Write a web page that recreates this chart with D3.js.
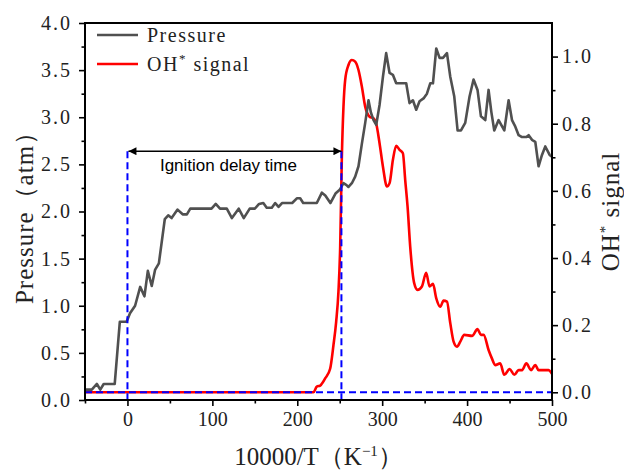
<!DOCTYPE html>
<html><head><meta charset="utf-8">
<script src="https://cdn.jsdelivr.net/npm/d3@7"></script>
<style>body{margin:0;background:#fff}svg{display:block}</style>
</head><body>
<svg id="c" width="624" height="471"></svg>
<script>
// ---- data ----
const pressureX = [-50,-42,-36,-32,-28,-15,-9,-1,3,9,15,20,24,28.6,32.5,37,44,48,52,59,65,70,74,99,104,109,117,123,131,137,144,150,155,160,164,170,174,178,182,188,194,199.5,203.4,207,223,229,233,239,245,250,254.4,258,260.3,264.3,268.2,272.1,276.1,280,283.9,286.7,289.8,293,296.9,300.9,304.7,308.7,312.6,316.5,328.3,332.2,336.2,340.1,344,348.7,352.7,356.6,359.8,363.7,367.6,371.6,376.3,380.2,384.9,388.8,392.8,397.8,402.9,407.6,412.3,416.3,421.4,425.3,428.5,432,437.1,443.8,448.9,452.9,456.8,460.7,464.7,469.8,472.5,476.4,480.3,484.2,488.2,492.1,497.2,500];
const pressureY = [0.11,0.11,0.17,0.11,0.17,0.17,0.83,0.83,0.92,1.0,1.2,1.10,1.37,1.21,1.38,1.45,1.92,1.96,1.93,2.02,1.97,1.97,2.03,2.03,2.08,2.03,2.03,1.93,2.03,1.93,2.03,2.03,2.08,2.09,2.04,2.04,2.09,2.05,2.09,2.09,2.09,2.14,2.14,2.09,2.09,2.2,2.17,2.09,2.19,2.23,2.30,2.28,2.26,2.30,2.37,2.48,2.72,2.94,3.18,3.05,2.97,2.92,3.13,3.43,3.68,3.47,3.45,3.36,3.36,3.15,3.18,3.08,3.17,3.20,3.25,3.36,3.36,3.73,3.63,3.63,3.68,3.43,3.22,2.86,2.86,2.94,3.22,3.40,3.29,3.01,2.97,3.29,3.06,2.86,2.97,2.86,3.18,2.97,2.90,2.81,2.79,2.79,2.81,2.76,2.74,2.48,2.60,2.69,2.60,2.58];
const ohX = [-50,219,223,227,233,238.7,242.6,245.8,248.5,250.5,252.5,254.4,256.4,260.3,264.3,268.2,272.1,276.1,280,285.1,289.8,293,296.9,300.9,305.6,308.7,312.6,316.5,320.5,324.4,327.1,329.9,333,337.7,341.6,346.8,351.8,355.8,359.8,363.7,368.4,372.3,376.3,380.2,384.1,388.1,392,396.7,405.8,412.3,416.3,419.5,425.3,429.2,433.1,439,443.8,450.1,455.6,460.7,464.7,469.8,475.3,480.3,484.2,496,500];
const ohY = [0,0,0.017,0.02,0.042,0.07,0.14,0.21,0.30,0.43,0.70,0.85,0.93,0.975,0.99,0.985,0.96,0.91,0.851,0.821,0.816,0.80,0.742,0.672,0.613,0.623,0.692,0.734,0.722,0.712,0.633,0.553,0.434,0.325,0.305,0.315,0.356,0.315,0.323,0.28,0.255,0.273,0.27,0.206,0.151,0.136,0.151,0.171,0.168,0.188,0.171,0.171,0.126,0.101,0.081,0.086,0.052,0.069,0.052,0.066,0.066,0.086,0.066,0.081,0.066,0.066,0.055];
const xTicks = [0,100,200,300,400,500];
const xMinor = [-50,50,150,250,350,450];
const pTicks = [0,0.5,1,1.5,2,2.5,3,3.5,4];
const pMinor = [0.25,0.75,1.25,1.75,2.25,2.75,3.25,3.75];
const ohTicks = [0,0.2,0.4,0.6,0.8,1.0];
const ohMinor = [0.1,0.3,0.5,0.7,0.9];
const seriesNames = ["Pressure","OH* signal"];
const ignitionStart = 0, ignitionEnd = 252, arrowLevel = 2.64;
const annotationText = "Ignition delay time";

// ---- layout ----
const L = 85, R = 552, T = 23, B = 400;
const svg = d3.select("#c");
const x = d3.scaleLinear().domain([-50,500]).range([L,R]);
const yP = d3.scaleLinear().domain([0,4]).range([B,T]);
const yO = d3.scaleLinear().domain([-0.023,1.1]).range([B,T]);
const serif = "'Liberation Serif','Times New Roman',serif";

// defs
const defs = svg.append("defs");
defs.append("marker").attr("id","ah").attr("viewBox","0 0 10 10").attr("refX",10).attr("refY",5)
  .attr("markerWidth",10).attr("markerHeight",8).attr("markerUnits","userSpaceOnUse").attr("orient","auto-start-reverse")
  .append("path").attr("d","M0,0L10,5L0,10z").attr("fill","#000");
defs.append("clipPath").attr("id","clip").append("rect").attr("x",L).attr("y",T).attr("width",R-L).attr("height",B-T);

// lines
const pData = pressureX.map((d,i)=>[d,pressureY[i]]);
const oData = ohX.map((d,i)=>[d,ohY[i]]);
const g = svg.append("g").attr("clip-path","url(#clip)");
g.append("path").datum(oData).attr("fill","none").attr("stroke","#ff0000").attr("stroke-width",2.6)
  .attr("stroke-linejoin","round")
  .attr("d",d3.line().x(d=>x(d[0])).y(d=>yO(d[1])).curve(d3.curveMonotoneX));
g.append("path").datum(pData).attr("fill","none").attr("stroke","#505050").attr("stroke-width",2.6)
  .attr("stroke-linejoin","round")
  .attr("d",d3.line().x(d=>x(d[0])).y(d=>yP(d[1])));

// blue dashed lines
const dash = svg.append("g").attr("stroke","#0000ff").attr("stroke-width",2).attr("stroke-dasharray","7,4").attr("fill","none");
dash.append("line").attr("x1",x(-50)).attr("x2",x(500)).attr("y1",yO(0)).attr("y2",yO(0));
dash.append("line").attr("x1",x(ignitionStart)).attr("x2",x(ignitionStart)).attr("y1",yP(arrowLevel)).attr("y2",B);
dash.append("line").attr("x1",x(ignitionEnd)).attr("x2",x(ignitionEnd)).attr("y1",yP(arrowLevel)).attr("y2",B);

// arrow
svg.append("line").attr("x1",x(ignitionStart)+1).attr("x2",x(ignitionEnd)).attr("y1",yP(arrowLevel)).attr("y2",yP(arrowLevel))
  .attr("stroke","#000").attr("stroke-width",1.6).attr("marker-start","url(#ah)").attr("marker-end","url(#ah)");
svg.append("text").attr("x",(x(ignitionStart)+x(ignitionEnd))/2-6).attr("y",yP(arrowLevel)+20)
  .attr("text-anchor","middle").attr("font-family","'Liberation Sans',Arial,sans-serif").attr("font-size",17)
  .attr("fill","#000").text(annotationText);

// frame
svg.append("rect").attr("x",L).attr("y",T).attr("width",R-L).attr("height",B-T).attr("fill","none").attr("stroke","#000").attr("stroke-width",2);

// axes
function styleAxis(sel){
  sel.select(".domain").remove();
  sel.selectAll(".tick line").attr("stroke","#000").attr("stroke-width",1.6);
  sel.selectAll(".tick text").attr("font-family",serif).attr("font-size",20).attr("fill","#222").attr("letter-spacing","2px");
}
const fmt1 = d3.format(".1f");
const xa = svg.append("g").attr("transform",`translate(0,${B})`)
  .call(d3.axisBottom(x).tickValues(xTicks).tickSize(6).tickPadding(6).tickFormat(d3.format("d")));
styleAxis(xa); xa.selectAll(".tick text").attr("letter-spacing","0px");
const xm = svg.append("g").attr("transform",`translate(0,${B})`).call(d3.axisBottom(x).tickValues(xMinor).tickSize(3.5).tickFormat(""));
styleAxis(xm);
const ya = svg.append("g").attr("transform",`translate(${L},0)`)
  .call(d3.axisLeft(yP).tickValues(pTicks).tickSize(6).tickPadding(9).tickFormat(fmt1));
styleAxis(ya); ya.selectAll(".tick text").attr("dx","2px");
const ym = svg.append("g").attr("transform",`translate(${L},0)`).call(d3.axisLeft(yP).tickValues(pMinor).tickSize(3.5).tickFormat(""));
styleAxis(ym);
const yb = svg.append("g").attr("transform",`translate(${R},0)`)
  .call(d3.axisRight(yO).tickValues(ohTicks).tickSize(6).tickPadding(4).tickFormat(fmt1));
styleAxis(yb);
const ybm = svg.append("g").attr("transform",`translate(${R},0)`).call(d3.axisRight(yO).tickValues(ohMinor).tickSize(3.5).tickFormat(""));
styleAxis(ybm);

// axis titles
const xt = svg.append("text").attr("x",(L+R)/2).attr("y",465).attr("text-anchor","middle")
  .attr("font-family",serif).attr("font-size",25).attr("fill","#222");
xt.append("tspan").text("10000/T（K");
xt.append("tspan").attr("dy",-9).attr("font-size",15).text("−1");
xt.append("tspan").attr("dy",9).text("）");

svg.append("text").attr("transform",`translate(33,${(T+B)/2}) rotate(-90)`).attr("text-anchor","middle")
  .attr("font-family",serif).attr("font-size",25).attr("fill","#222").attr("letter-spacing","1px").text("Pressure（atm）");

const rt = svg.append("text").attr("transform",`translate(619,${(T+B)/2}) rotate(-90)`).attr("text-anchor","middle")
  .attr("font-family",serif).attr("font-size",25).attr("fill","#222").attr("letter-spacing","1px");
rt.append("tspan").text("OH");
rt.append("tspan").attr("dy",-9).attr("font-size",15).text("*");
rt.append("tspan").attr("dy",9).text(" signal");

// legend
const leg = svg.append("g");
const legColors = ["#505050","#ff0000"];
seriesNames.forEach((n,i)=>{
  const yy = 35 + i*29;
  leg.append("line").attr("x1",97).attr("x2",138).attr("y1",yy).attr("y2",yy).attr("stroke",legColors[i]).attr("stroke-width",2.6);
  const t = leg.append("text").attr("x",147).attr("y",yy+7).attr("font-family",serif).attr("font-size",20)
    .attr("fill","#222").attr("letter-spacing","1.5px");
  if (n.includes("*")) {
    const parts = n.split("*");
    t.append("tspan").text(parts[0]);
    t.append("tspan").attr("dy",-8).attr("font-size",13).text("*");
    t.append("tspan").attr("dy",8).text(parts[1]);
  } else t.text(n);
});
</script>
</body></html>
